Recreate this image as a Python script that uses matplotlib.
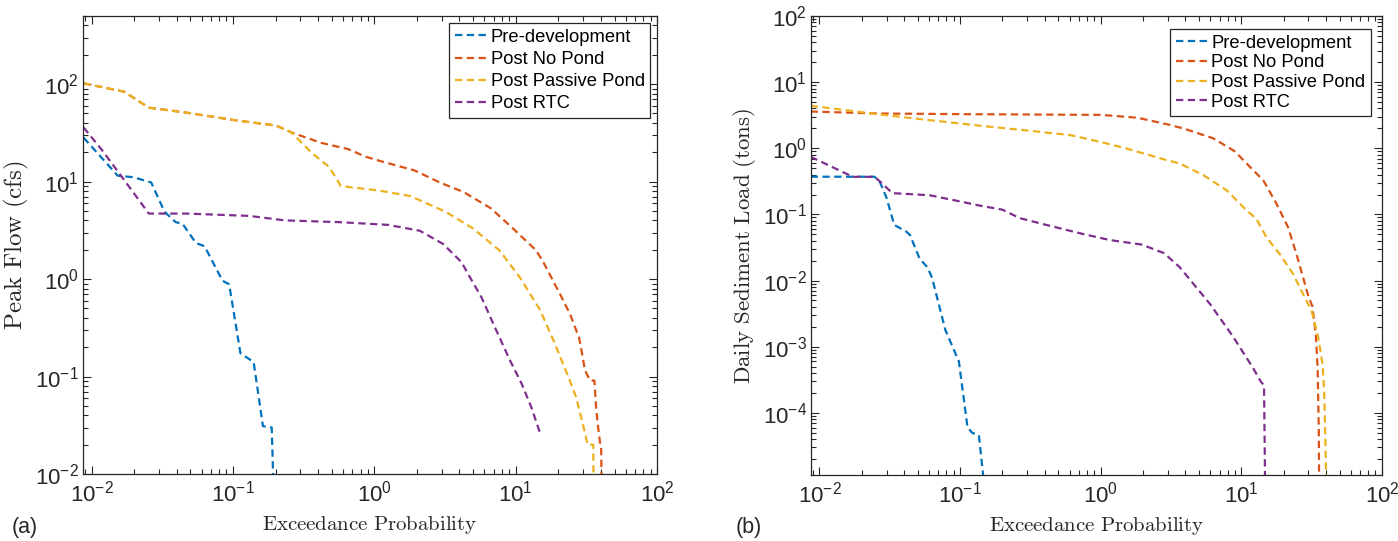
import matplotlib
matplotlib.use("Agg")
import matplotlib.pyplot as plt
import numpy as np

plt.rcParams['font.family'] = ['Liberation Sans', 'DejaVu Sans']
plt.rcParams['mathtext.fontset'] = 'custom'
plt.rcParams['mathtext.rm'] = 'Liberation Sans'
plt.rcParams['mathtext.it'] = 'Liberation Sans:italic'
plt.rcParams['mathtext.bf'] = 'Liberation Sans:bold'

# ---------------- data ----------------
series_names = ["Pre-development", "Post No Pond", "Post Passive Pond", "Post RTC"]
colors = ["#0072BD", "#D95319", "#EDB120", "#7E2F8E"]

# (a) Peak flow (cfs)
flow_pre_x = [0.00877, 0.0153, 0.0197, 0.0264, 0.0328, 0.0393, 0.044, 0.0546, 0.063, 0.0844, 0.094, 0.113, 0.14, 0.163, 0.188, 0.195]
flow_pre_y = [28.3, 11.5, 11.1, 9.8, 4.9, 3.84, 3.7, 2.35, 2.17, 0.96, 0.885, 0.173, 0.141, 0.031, 0.03, 0.005]

flow_nopond_x = [0.00877, 0.017, 0.0254, 0.047, 0.105, 0.202, 0.26, 0.42, 0.65, 0.87, 1.08, 1.93, 2.9, 4.3, 6.7, 9.8,
                 13.8, 15.4, 17.5, 20.6, 24.2, 26.3, 28.0, 29.2, 30.9, 33.6, 36.0, 37.0, 38.0, 39.5, 40.2, 40.7]
flow_nopond_y = [102, 83.6, 57.4, 51, 42.5, 37.6, 31.9, 25, 21.6, 18, 16.4, 13, 9.8, 7.8, 5.3, 3.2,
                 2.0, 1.57, 1.1, 0.7, 0.44, 0.32, 0.254, 0.186, 0.116, 0.091, 0.091, 0.05, 0.033, 0.021, 0.02, 0.005]

flow_passive_x = [0.00877, 0.017, 0.0254, 0.047, 0.105, 0.202, 0.26, 0.362, 0.48, 0.58, 1.08, 1.8, 3.2, 5.0, 7.7,
                  10.7, 14.9, 18.5, 23.6, 26.7, 29.8, 32.3, 35.4, 35.6]
flow_passive_y = [102, 83.6, 57.4, 51, 42.5, 37.6, 31.9, 19.6, 14.1, 9.0, 8.1, 7.1, 4.9, 3.3, 1.96,
                  1.04, 0.48, 0.235, 0.099, 0.062, 0.033, 0.02, 0.02, 0.005]

flow_rtc_x = [0.00877, 0.0118, 0.0158, 0.0254, 0.047, 0.13, 0.234, 0.56, 1.25, 2.1, 3.07, 4.14, 4.6, 5.73, 6.93,
              9.1, 11.0, 13.0, 14.9]
flow_rtc_y = [36, 21.2, 12, 4.7, 4.7, 4.45, 4.0, 3.84, 3.6, 3.13, 2.29, 1.49, 1.13, 0.65, 0.35,
              0.147, 0.085, 0.047, 0.026]

# (b) Daily sediment load (tons)
sed_pre_x = [0.00865, 0.0246, 0.0267, 0.03, 0.034, 0.0414, 0.044, 0.0515, 0.0587, 0.0632, 0.0785, 0.098, 0.113,
             0.122, 0.136, 0.152]
sed_pre_y = [0.372, 0.372, 0.32, 0.178, 0.0695, 0.055, 0.049, 0.0215, 0.0158, 0.011, 0.0018, 6e-4, 6e-5,
             5e-5, 4.6e-5, 5e-6]

sed_nopond_x = [0.00865, 0.026, 0.113, 1.01, 1.82, 3.04, 3.86, 6.3, 9.0, 12.1, 14.3, 17.8, 21.5, 24.7, 27.9,
                29.9, 32.0, 33.9, 34.9, 35.6, 35.8]
sed_nopond_y = [3.6, 3.36, 3.28, 3.2, 2.9, 2.28, 2.0, 1.42, 0.9, 0.47, 0.33, 0.145, 0.064, 0.025, 0.01,
                0.0059, 0.0041, 0.0015, 4.7e-4, 5e-5, 5e-6]

sed_passive_x = [0.00865, 0.026, 0.0546, 0.152, 0.272, 0.61, 1.01, 1.57, 2.82, 3.65, 5.4, 7.9, 10.9, 12.8, 15.1,
                 18.8, 23.4, 28.3, 31.6, 35.3, 37.9, 38.9, 39.9, 40.2]
sed_passive_y = [4.4, 3.28, 2.73, 2.15, 1.9, 1.58, 1.24, 0.975, 0.68, 0.59, 0.39, 0.23, 0.115, 0.086, 0.045,
                 0.025, 0.0125, 0.0055, 0.0035, 0.00135, 5.3e-4, 1.9e-4, 2e-5, 5e-6]

sed_rtc_x = [0.00865, 0.0173, 0.0246, 0.0267, 0.033, 0.0607, 0.099, 0.138, 0.2, 0.265, 0.41, 0.71, 1.16, 1.96,
             2.82, 3.65, 6.0, 8.7, 12.1, 13.8, 14.5, 14.7, 14.8]
sed_rtc_y = [0.745, 0.37, 0.37, 0.32, 0.21, 0.195, 0.158, 0.136, 0.118, 0.088, 0.0695, 0.052, 0.041, 0.035,
             0.026, 0.0159, 0.0044, 0.00144, 4.8e-4, 2.95e-4, 2.6e-4, 2e-5, 5e-6]

x_ticks = [1e-2, 1e-1, 1e0, 1e1, 1e2]
flow_y_ticks = [1e-2, 1e-1, 1e0, 1e1, 1e2]
sed_y_ticks = [1e-4, 1e-3, 1e-2, 1e-1, 1e0, 1e1, 1e2]

flow_series = [(flow_pre_x, flow_pre_y), (flow_nopond_x, flow_nopond_y),
               (flow_passive_x, flow_passive_y), (flow_rtc_x, flow_rtc_y)]
sed_series = [(sed_pre_x, sed_pre_y), (sed_nopond_x, sed_nopond_y),
              (sed_passive_x, sed_passive_y), (sed_rtc_x, sed_rtc_y)]

# ---------------- figure ----------------
fig = plt.figure(figsize=(13.98, 5.41), dpi=100)
ax1 = fig.add_axes([0.0594, 0.1238, 0.4106, 0.8466])
ax2 = fig.add_axes([0.5801, 0.1220, 0.4084, 0.8484])

tick_color = '#262626'


def style_axes(ax, xlim, ylim, yticks, ylabel, ylabel_size, ylabel_pad):
    ax.set_xscale('log')
    ax.set_yscale('log')
    ax.set_xticks(x_ticks)
    ax.set_yticks(yticks)
    ax.xaxis.set_minor_locator(matplotlib.ticker.LogLocator(base=10, subs=np.arange(2, 10), numticks=20))
    ax.yaxis.set_minor_locator(matplotlib.ticker.LogLocator(base=10, subs=np.arange(2, 10), numticks=20))
    ax.xaxis.set_minor_formatter(matplotlib.ticker.NullFormatter())
    ax.yaxis.set_minor_formatter(matplotlib.ticker.NullFormatter())
    ax.set_xlim(*xlim)
    ax.set_ylim(*ylim)
    ax.tick_params(which='both', direction='in', top=True, right=True,
                   colors=tick_color, labelsize=16, width=0.8)
    ax.tick_params(which='major', length=6)
    ax.tick_params(which='minor', length=3.5)
    ax.tick_params(axis='x', which='major', pad=5)
    ax.tick_params(axis='y', which='major', pad=3)
    for s in ax.spines.values():
        s.set_linewidth(0.9)
        s.set_color('#262626')
    ax.set_xlabel(r'$\mathrm{Exceedance\ Probability}$', fontsize=15,
                  math_fontfamily='cm', color='#262626', labelpad=5)
    ax.set_ylabel(ylabel, fontsize=ylabel_size, math_fontfamily='cm', color='#262626',
                  labelpad=ylabel_pad)


for (x, y), c, name in zip(flow_series, colors, series_names):
    ax1.plot(x, y, '--', color=c, lw=1.6, label=name, dashes=(3.3, 2.0))
for (x, y), c, name in zip(sed_series, colors, series_names):
    ax2.plot(x, y, '--', color=c, lw=1.6, label=name, dashes=(3.3, 2.0))

style_axes(ax1, (0.0087, 100), (0.01, 500), flow_y_ticks,
           r'$\mathrm{Peak\ Flow\ (cfs)}$', 18, 3)
style_axes(ax2, (0.0087, 100), (1.15e-5, 100), sed_y_ticks,
           r'$\mathrm{Daily\ Sediment\ Load\ (tons)}$', 16.5, 3)

for ax, anchor, sp in [(ax1, (0.988, 0.984), 0.28), (ax2, (0.981, 0.971), 0.14)]:
    leg = ax.legend(loc='upper right', bbox_to_anchor=anchor, borderaxespad=0,
                    fontsize=13.2, fancybox=False, framealpha=1, edgecolor='#262626',
                    handlelength=1.75, handletextpad=0.2, labelspacing=sp, borderpad=0.3)
    leg.get_frame().set_linewidth(0.9)

fig.text(0.008, 0.014, '(a)', fontsize=15.5, color='#262626', va='baseline')
fig.text(0.526, 0.014, '(b)', fontsize=15.5, color='#262626', va='baseline')

fig.savefig('out.png', dpi=100)
